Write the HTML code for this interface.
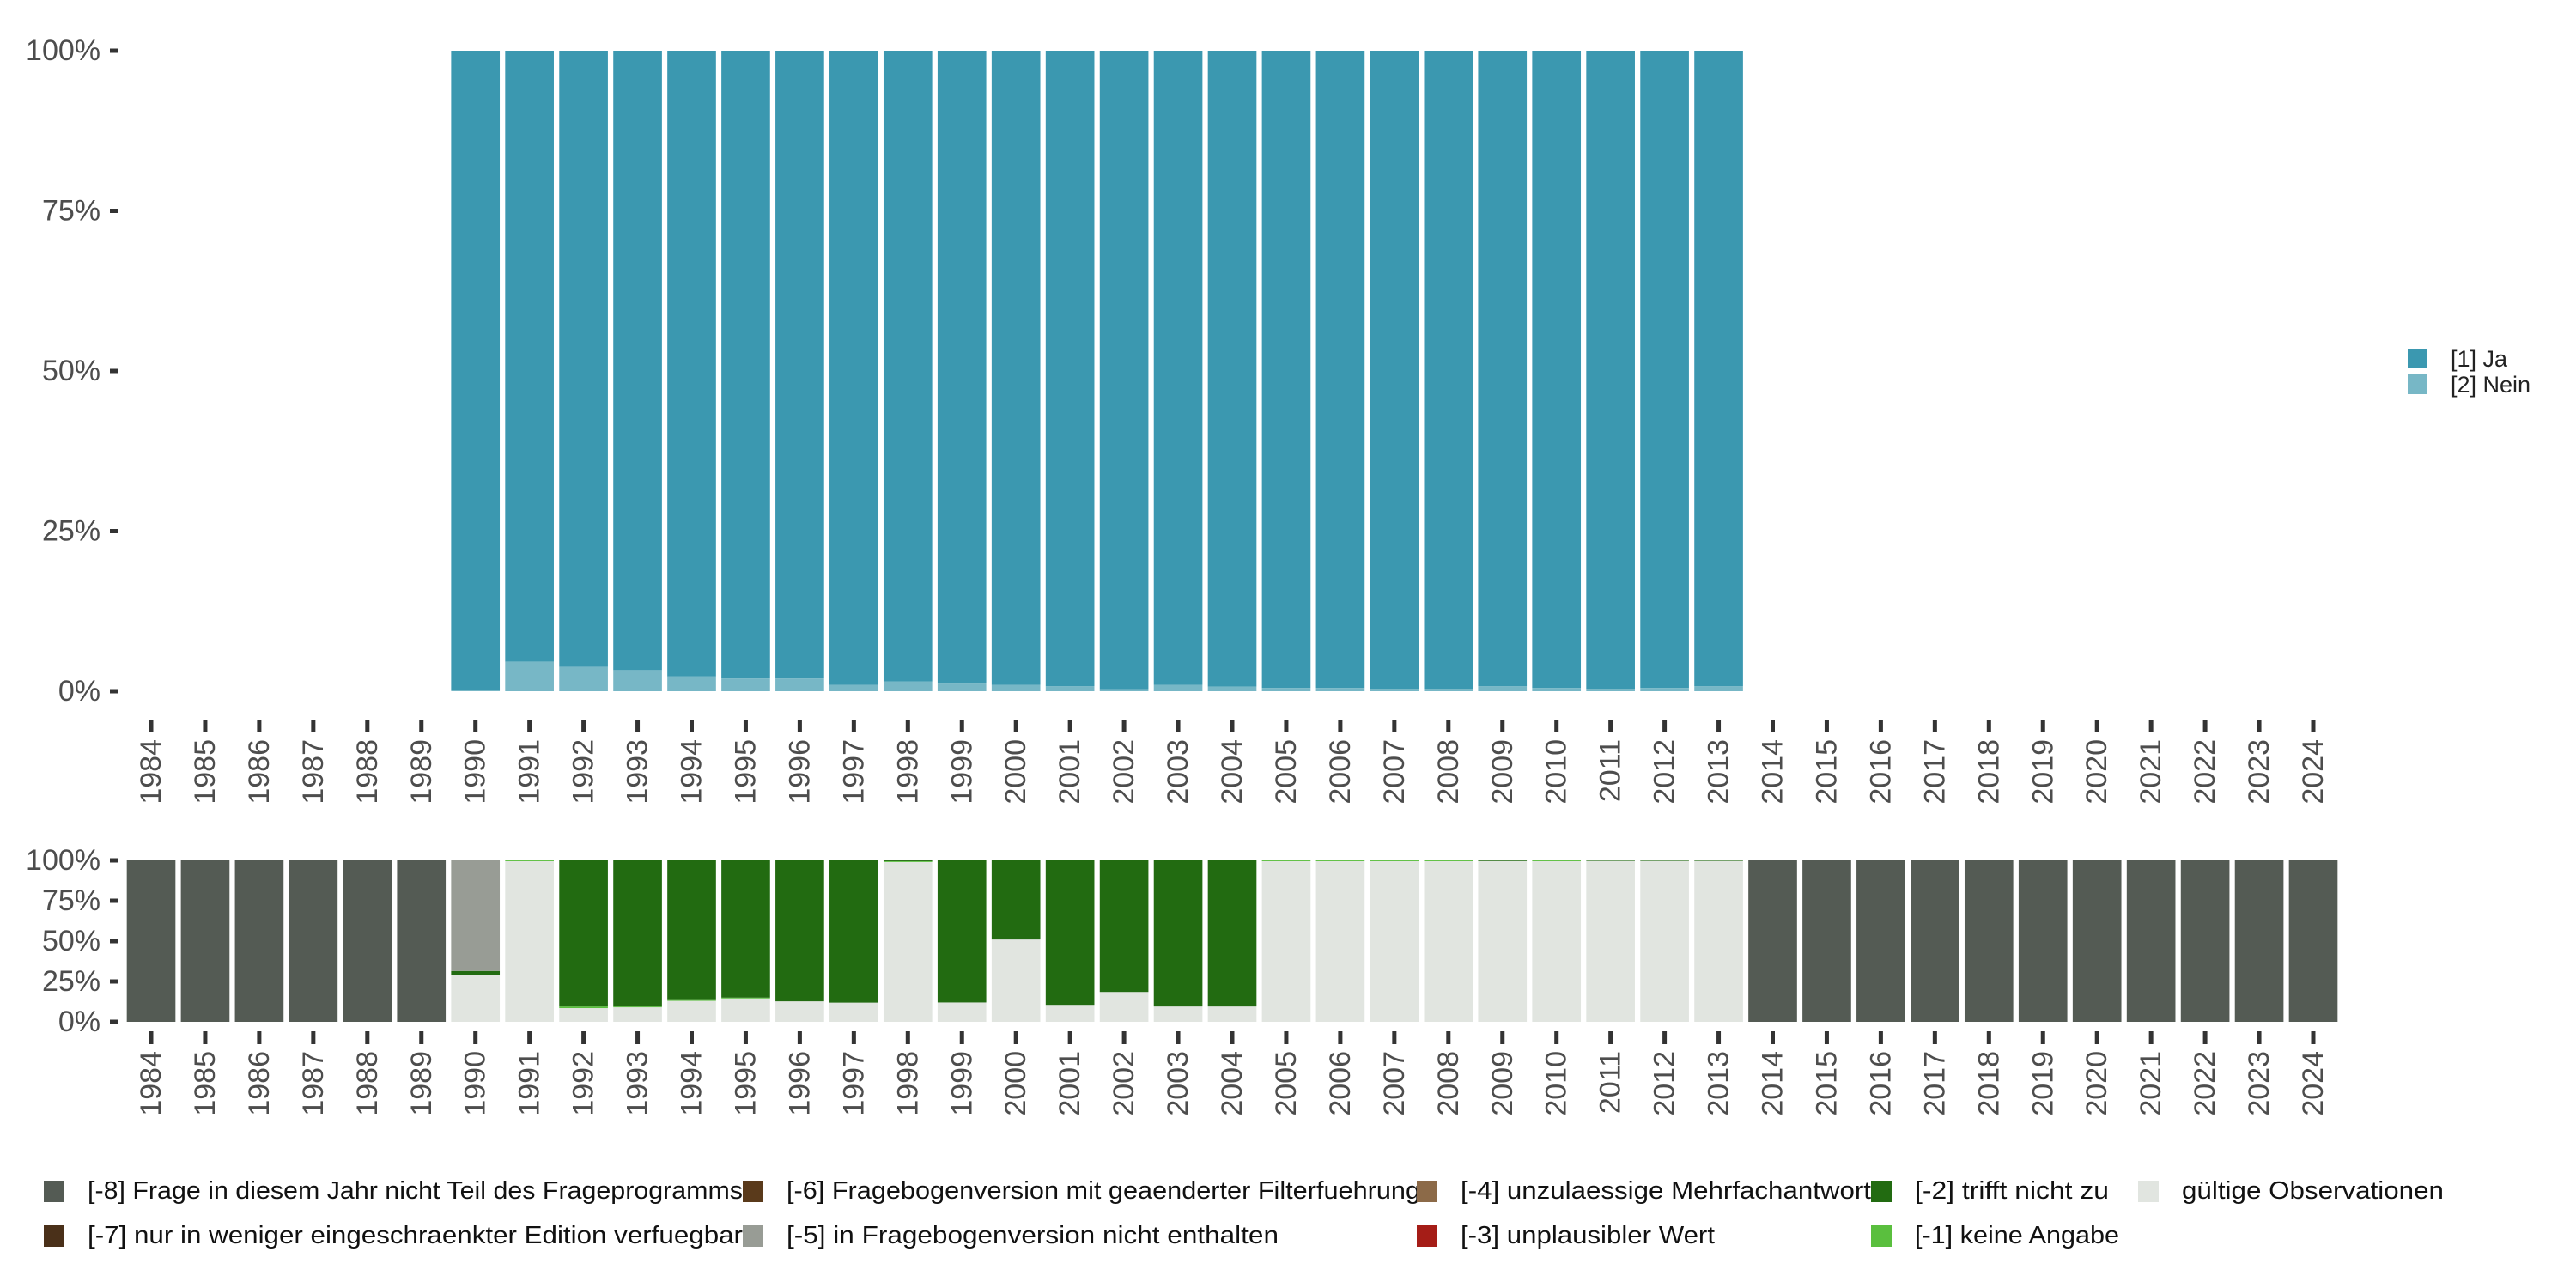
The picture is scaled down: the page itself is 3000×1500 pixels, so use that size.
<!DOCTYPE html>
<html><head><meta charset="utf-8"><style>
html,body{margin:0;padding:0;background:#fff;}
svg{display:block;font-family:"Liberation Sans",sans-serif;}
</style></head><body>
<svg id="chart" width="3000" height="1500" viewBox="0 0 3000 1500" xmlns="http://www.w3.org/2000/svg">
<g id="top"></g>
<g id="bot"></g>
<g id="leg"></g>
</svg>
<script>
const years = [];
for (let y = 1984; y <= 2024; y++) years.push(y);
const topYears = [1990,1991,1992,1993,1994,1995,1996,1997,1998,1999,2000,2001,2002,2003,2004,2005,2006,2007,2008,2009,2010,2011,2012,2013];
const neinPct = [0.2,4.6,3.8,3.3,2.3,2.0,2.0,1.0,1.5,1.2,1.0,0.8,0.3,1.0,0.7,0.5,0.5,0.4,0.4,0.8,0.5,0.4,0.5,0.8];
const yTicks = [0,25,50,75,100];
const yTickLabels = ["0%","25%","50%","75%","100%"];
// bottom panel shares per year (percent): valid, -1, -2, -5, -8
const validPct = [0,0,0,0,0,0,29,99.5,8.5,9,13,14.5,12.7,11.9,99,12,51,10,18.5,9.5,9.5,99.5,99.5,99.5,99.5,99.6,99.5,99.7,99.7,99.7,0,0,0,0,0,0,0,0,0,0,0];
const missing1Pct = [0,0,0,0,0,0,0,0.5,1,0.5,0.5,0.5,0,0,0.5,0,0,0,0,0,0,0.5,0.5,0.5,0.5,0,0.5,0,0,0,0,0,0,0,0,0,0,0,0,0,0];
const missing2Pct = [0,0,0,0,0,0,2.5,0,90.5,90.5,86.5,85,87.3,88.1,0.5,88,49,90,81.5,90.5,90.5,0,0,0,0,0.4,0,0.3,0.3,0.3,0,0,0,0,0,0,0,0,0,0,0];
const missing5Pct = [0,0,0,0,0,0,68.5,0,0,0,0,0,0,0,0,0,0,0,0,0,0,0,0,0,0,0,0,0,0,0,0,0,0,0,0,0,0,0,0,0,0];
const missing8Pct = [100,100,100,100,100,100,0,0,0,0,0,0,0,0,0,0,0,0,0,0,0,0,0,0,0,0,0,0,0,0,100,100,100,100,100,100,100,100,100,100,100];

const NS = "http://www.w3.org/2000/svg";
function el(tag, attrs, parent, txt) {
  const e = document.createElementNS(NS, tag);
  for (const k in attrs) e.setAttribute(k, attrs[k]);
  if (txt !== undefined) e.textContent = txt;
  parent.appendChild(e);
  return e;
}
const X0 = 176, STEP = (2694 - 176) / 40, BW = STEP * 0.9;
function xc(year) { return X0 + (year - 1984) * STEP; }
const topY = v => 805 - v / 100 * 746;
const botY = v => 1190 - v / 100 * 188;

const TEXT = "#4d4d4d";
function axes(g, yf, tickY0, labY) {
  yTicks.forEach((t, i) => {
    const y = yf(t);
    const tk = el("rect", {x:128, y:y-2.5, width:10, height:5, fill:"#333"}, g);
    
    
    const lb = el("text", {x:117, y:y, "text-anchor":"end", "dominant-baseline":"central", "font-size":34, fill:TEXT}, g, yTickLabels[i]);
    
    
  });
  years.forEach(yr => {
    const x = xc(yr);
    const tk = el("rect", {x:x-2.5, y:tickY0, width:5, height:15, fill:"#333"}, g);
    
    
    const lb = el("text", {x:0, y:0, "text-anchor":"end", "dominant-baseline":"central", "font-size":34, fill:TEXT, transform:`translate(${x},${labY}) rotate(-90)`}, g, String(yr));
    
    
  });
}

// top panel
const gt = document.getElementById("top");
axes(gt, topY, 838, 861);
topYears.forEach((yr, i) => {
  const x = xc(yr) - BW / 2;
  const n = neinPct[i];
  const ja = el("rect", {x:x, y:topY(100), width:BW, height:topY(n)-topY(100), fill:"#3b98b0"}, gt);
  
  
  const ne = el("rect", {x:x, y:topY(n), width:BW, height:topY(0)-topY(n), fill:"#77b7c6"}, gt);
  
  
});
// top legend
[["[1] Ja","#3b98b0",406],["[2] Nein","#77b7c6",436]].forEach(([t,c,y]) => {
  const r = el("rect", {x:2804, y:y, width:23, height:23, fill:c}, gt);
  
  
  const tx = el("text", {x:2854, y:y+12, "dominant-baseline":"central", "font-size":27, fill:"#222"}, gt, t);
  
  
});

// bottom panel
const gb = document.getElementById("bot");
axes(gb, botY, 1201, 1224);
const stackSeries = [
  [validPct, "#e1e5e0", "valid"],
  [missing1Pct, "#5abf3e", "m1"],
  [missing2Pct, "#226b11", "m2"],
  [missing5Pct, "#989c95", "m5"],
  [missing8Pct, "#545b54", "m8"]
];
years.forEach((yr, i) => {
  let cum = 0;
  const x = xc(yr) - BW / 2;
  stackSeries.forEach(([arr, col, nm]) => {
    const v = arr[i];
    if (v <= 0) return;
    const r = el("rect", {x:x, y:botY(Math.min(100, cum+v)), width:BW, height:botY(cum)-botY(Math.min(100, cum+v)), fill:col}, gb);
    
    
    cum += v;
  });
});

// bottom legend
const gl = document.getElementById("leg");
const legendItems = [
  ["[-8] Frage in diesem Jahr nicht Teil des Frageprogramms","#545b54",51,1387,763],
  ["[-7] nur in weniger eingeschraenkter Edition verfuegbar","#4a3019",51,1439,763],
  ["[-6] Fragebogenversion mit geaenderter Filterfuehrung","#5a3a1b",865,1387,738],
  ["[-5] in Fragebogenversion nicht enthalten","#989c95",865,1439,573],
  ["[-4] unzulaessige Mehrfachantwort","#8c6a48",1650,1387,478],
  ["[-3] unplausibler Wert","#a51d17",1650,1439,296],
  ["[-2] trifft nicht zu","#226b11",2179,1387,226],
  ["[-1] keine Angabe","#5abf3e",2179,1439,238],
  ["gültige Observationen","#e1e5e0",2490,1387,305]
];
legendItems.forEach(([t,c,x,y,w]) => {
  const r = el("rect", {x:x, y:y-12, width:24, height:25, fill:c}, gl);
  
  
  const tx = el("text", {x:x+51, y:y, "dominant-baseline":"central", "font-size":29, fill:"#111", textLength:w, lengthAdjust:"spacingAndGlyphs"}, gl, t);
  
  
});
</script>
</body></html>
